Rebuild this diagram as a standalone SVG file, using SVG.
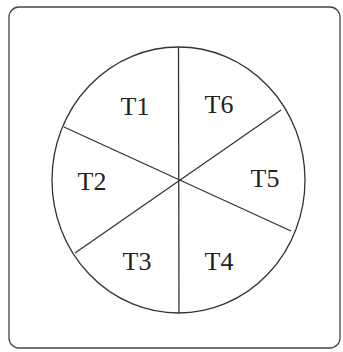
<svg xmlns="http://www.w3.org/2000/svg" width="343" height="352" viewBox="0 0 343 352">
<style>
.ln{stroke:#333;stroke-width:1.3;fill:none}
.lb{font-family:"Liberation Serif",serif;font-size:26px;fill:#222;text-anchor:middle}
</style>
<rect x="0" y="0" width="343" height="352" fill="#fff"/>
<rect x="9" y="7" width="331" height="341" rx="10" ry="10" fill="none" stroke="#444" stroke-width="1.3"/>
<g id="connectors">
<line class="ln" x1="178.5" y1="47" x2="179" y2="313"/>
<line class="ln" x1="64" y1="127" x2="291" y2="231"/>
<line class="ln" x1="75" y1="253" x2="281" y2="110"/>
</g>
<g id="circle"><ellipse class="ln" cx="178.5" cy="180" rx="126.5" ry="133"/></g>
<g id="T1"><text class="lb" x="135" y="115">T1</text></g>
<g id="T2"><text class="lb" x="92" y="190">T2</text></g>
<g id="T3"><text class="lb" x="137" y="270">T3</text></g>
<g id="T4"><text class="lb" x="219" y="270">T4</text></g>
<g id="T5"><text class="lb" x="265" y="187">T5</text></g>
<g id="T6"><text class="lb" x="219" y="113">T6</text></g>
</svg>
